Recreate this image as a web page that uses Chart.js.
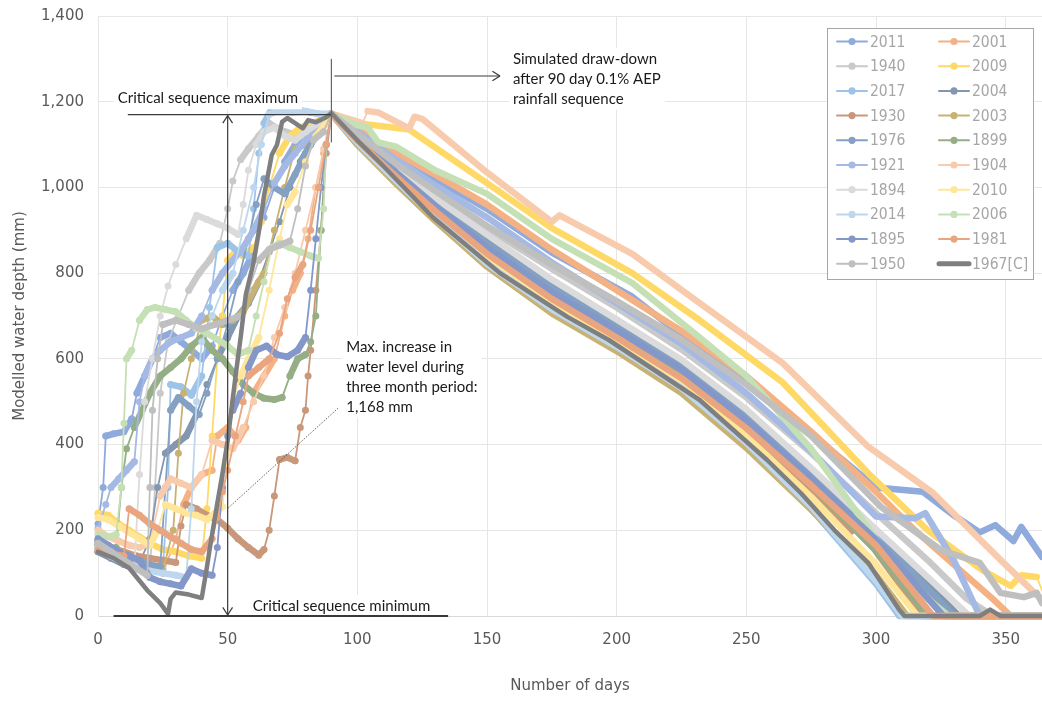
<!DOCTYPE html>
<html>
<head>
<meta charset="utf-8">
<script src="https://cdn.jsdelivr.net/npm/chart.js@4.4.0/dist/chart.umd.min.js"></script>
<style>
  html, body { margin: 0; padding: 0; background: #fff; }
  #wrap { width: 1042px; height: 701px; }
</style>
</head>
<body>
<div id="wrap"><canvas id="depthChart" width="1042" height="701"></canvas></div>
<script>
// modelled water depth (mm) by day: [day, mm]
const d2011 = [[0,215],[2,300],[3,420],[6,425],[10,430],[13,460],[15,520],[18,560],[21,600],[24,650],[28,660],[32,640],[36,620],[40,600],[44,630],[48,700],[52,760],[56,800],[60,850],[64,930],[68,1000],[72,1060],[76,1100],[80,1130],[84,1150],[88,1165],[90,1172],[100,1135],[115,1075],[130,1020],[150,950],[175,848],[206,745],[225,655],[250,545],[275,425],[300,300],[318,290],[330,235],[340,195],[346,212],[353,175],[356,208],[364,138]];
const d2001 = [[0,150],[5,135],[10,125],[15,115],[20,110],[25,100],[30,180],[33,260],[36,300],[40,330],[44,340],[46,420],[50,440],[54,410],[57,440],[60,520],[64,560],[68,600],[72,700],[75,760],[78,800],[81,880],[84,1000],[87,1080],[90,1170],[100,1135],[115,1080],[130,1030],[150,960],[175,855],[200,760],[225,665],[250,560],[275,430],[300,290],[315,200],[330,120],[345,40],[352,0],[364,0]];
const d1940 = [[0,175],[5,155],[10,140],[15,125],[20,110],[22,300],[24,520],[27,640],[31,700],[35,760],[39,800],[43,830],[47,870],[50,950],[52,1015],[55,1065],[58,1090],[62,1120],[66,1150],[70,1135],[75,1125],[80,1140],[85,1155],[90,1172],[100,1125],[115,1055],[130,990],[150,905],[175,810],[200,720],[225,622],[250,510],[275,380],[300,240],[320,130],[335,40],[345,0],[364,0]];
const d2009 = [[0,240],[4,235],[8,215],[12,200],[16,185],[20,170],[25,155],[30,150],[35,140],[40,135],[42,250],[44,420],[46,600],[48,700],[50,830],[53,850],[56,840],[60,860],[63,920],[66,1000],[70,1080],[74,1120],[78,1140],[83,1150],[87,1160],[90,1172],[100,1150],[120,1135],[150,1010],[175,905],[206,800],[232,690],[264,545],[297,333],[320,200],[341,107],[352,70],[356,95],[362,91],[364,60]];
const d2017 = [[0,165],[5,150],[10,135],[15,125],[20,115],[25,110],[27,300],[28,540],[32,535],[36,515],[40,560],[43,720],[46,860],[50,870],[54,850],[58,840],[60,950],[62,1080],[64,1150],[67,1185],[70,1190],[74,1185],[78,1180],[82,1175],[86,1170],[90,1172],[100,1100],[115,1010],[130,925],[150,818],[175,710],[200,622],[225,525],[250,398],[275,250],[300,75],[309,0],[364,0]];
const d2004 = [[0,150],[5,135],[10,120],[15,110],[20,180],[23,300],[26,380],[30,400],[34,420],[38,470],[42,540],[46,600],[50,650],[54,700],[58,730],[62,780],[66,850],[70,920],[74,1000],[78,1060],[82,1100],[86,1140],[90,1172],[100,1118],[115,1040],[130,965],[150,880],[175,778],[200,690],[225,596],[250,476],[275,340],[300,196],[332,0],[364,0]];
const d1930 = [[0,170],[5,160],[10,150],[15,140],[20,135],[25,130],[30,125],[32,210],[34,260],[38,250],[42,235],[46,225],[50,205],[54,180],[58,160],[62,142],[64,155],[66,200],[68,280],[70,365],[73,370],[76,362],[78,440],[80,480],[81,560],[82,620],[84,760],[86,900],[88,1080],[90,1170],[100,1110],[115,1020],[130,940],[150,840],[175,735],[200,646],[225,552],[250,430],[275,290],[290,195],[294,215],[300,150],[318,0],[364,0]];
const d2003 = [[0,160],[5,145],[10,135],[15,125],[20,115],[25,105],[29,200],[31,380],[33,520],[36,600],[40,690],[44,700],[48,680],[52,690],[56,710],[60,760],[64,800],[68,900],[72,1000],[76,1090],[80,1100],[84,1130],[88,1150],[90,1172],[100,1100],[115,1008],[130,922],[150,815],[175,706],[200,618],[225,520],[250,392],[275,248],[300,95],[312,0],[364,0]];
const d1976 = [[0,175],[5,160],[10,145],[15,130],[20,120],[24,115],[26,300],[28,480],[31,510],[35,490],[39,470],[42,520],[46,600],[50,680],[54,780],[58,880],[61,960],[64,1020],[68,1000],[72,985],[76,1030],[80,1080],[85,1130],[90,1172],[100,1115],[115,1035],[130,960],[150,870],[175,768],[200,680],[225,590],[250,472],[275,338],[300,190],[330,0],[364,0]];
const d1899 = [[0,165],[4,150],[7,160],[9,300],[11,390],[14,440],[17,480],[20,520],[24,560],[28,580],[32,600],[36,630],[40,650],[44,620],[48,600],[52,570],[56,540],[60,520],[64,508],[68,505],[71,510],[74,560],[77,600],[80,610],[82,640],[84,700],[86,900],[88,1100],[90,1170],[100,1120],[115,1030],[130,950],[150,850],[175,745],[200,656],[225,562],[250,442],[275,305],[300,152],[320,0],[364,0]];
const d1921 = [[0,205],[3,260],[5,300],[8,320],[11,340],[14,360],[16,500],[18,560],[21,600],[24,620],[28,640],[32,650],[36,660],[40,700],[44,760],[48,800],[52,830],[56,860],[60,900],[64,950],[68,1010],[72,1050],[76,1080],[80,1110],[84,1140],[88,1160],[90,1172],[100,1130],[115,1065],[130,1005],[150,930],[175,825],[200,730],[225,635],[250,520],[275,385],[300,232],[315,228],[319,240],[330,130],[340,0],[364,0]];
const d1904 = [[0,200],[4,185],[8,175],[12,165],[16,160],[20,170],[24,280],[28,320],[32,310],[36,300],[40,330],[44,410],[48,400],[52,390],[56,440],[60,500],[64,560],[68,650],[72,720],[76,800],[80,900],[84,1000],[87,1090],[90,1172],[102,1150],[104,1178],[108,1175],[120,1138],[122,1165],[125,1160],[150,1035],[175,920],[178,935],[206,845],[232,730],[264,590],[297,395],[322,287],[348,131],[364,37]];
const d1894 = [[0,160],[5,140],[10,125],[14,115],[16,330],[18,500],[21,600],[24,700],[27,770],[30,820],[34,880],[38,935],[42,925],[46,915],[50,905],[54,890],[56,960],[58,1040],[61,1100],[64,1130],[68,1140],[72,1120],[76,1110],[80,1130],[85,1150],[90,1172],[100,1120],[115,1045],[130,975],[150,890],[175,785],[200,692],[225,598],[250,482],[275,345],[300,202],[320,90],[336,0],[364,0]];
const d2010 = [[0,230],[4,225],[8,210],[12,195],[16,180],[20,165],[23,200],[26,260],[30,250],[34,240],[38,235],[42,225],[45,240],[48,255],[50,380],[52,500],[55,560],[58,600],[62,650],[66,760],[70,880],[73,960],[76,990],[80,1060],[84,1120],[88,1150],[90,1172],[100,1115],[115,1025],[130,942],[150,835],[175,730],[200,642],[225,545],[250,420],[275,278],[300,120],[316,0],[364,0]];
const d2014 = [[0,160],[5,140],[10,125],[15,115],[20,105],[25,100],[30,95],[34,90],[36,250],[38,500],[40,640],[44,700],[48,760],[52,800],[56,900],[60,1000],[63,1100],[66,1170],[70,1180],[75,1175],[80,1178],[85,1172],[90,1172],[100,1105],[115,1015],[130,930],[150,822],[175,716],[200,628],[225,532],[250,404],[275,255],[300,82],[310,0],[364,0]];
const d2006 = [[0,190],[4,185],[7,190],[9,300],[10,450],[11,600],[13,620],[16,690],[19,715],[22,720],[26,715],[30,710],[34,690],[38,670],[42,660],[46,645],[50,630],[54,610],[58,620],[61,700],[64,780],[67,860],[70,870],[74,860],[78,850],[82,840],[85,835],[87,950],[88,1100],[90,1170],[100,1145],[104,1140],[108,1105],[115,1095],[130,1040],[150,985],[175,880],[206,777],[232,650],[250,560],[275,390],[300,180],[312,80],[328,0],[364,0]];
const d1895 = [[0,180],[4,165],[8,150],[12,140],[16,130],[20,90],[24,80],[28,75],[32,70],[36,110],[40,100],[44,95],[46,160],[48,300],[50,420],[52,480],[55,520],[58,580],[61,620],[65,630],[69,610],[73,605],[77,620],[80,650],[82,760],[84,880],[86,1000],[88,1100],[90,1172],[100,1120],[115,1035],[130,958],[150,860],[175,756],[200,666],[225,575],[250,456],[275,320],[300,178],[326,0],[364,0]];
const d1981 = [[0,155],[5,145],[10,140],[12,250],[16,235],[20,215],[24,200],[28,185],[32,170],[36,155],[40,150],[44,180],[46,230],[48,290],[50,340],[53,420],[56,500],[58,560],[62,580],[66,600],[70,660],[73,740],[76,790],[79,820],[82,900],[85,1000],[88,1100],[90,1172],[100,1110],[115,1025],[130,945],[150,845],[175,740],[200,650],[225,555],[250,438],[275,305],[300,165],[322,0],[364,0]];
const d1950 = [[0,170],[5,150],[10,130],[15,110],[19,95],[20,300],[21,480],[23,600],[25,680],[30,690],[35,680],[40,670],[45,680],[50,690],[55,700],[58,760],[62,830],[66,855],[70,865],[74,875],[77,950],[80,1050],[83,1110],[87,1130],[90,1172],[100,1125],[115,1055],[130,992],[150,910],[175,820],[200,735],[225,645],[250,540],[275,420],[302,254],[325,154],[340,124],[348,54],[357,44],[362,54],[364,30]];
const d1967 = [[0,150],[6,135],[12,112],[19,60],[24,30],[27,5],[28,40],[30,55],[35,50],[40,42],[42,114],[43,154],[46,263],[48,333],[50,410],[53,558],[55,650],[57,750],[60,825],[62,896],[64,980],[67,1076],[69,1099],[71,1153],[73,1162],[76,1150],[79,1138],[81,1157],[84,1152],[88,1164],[90,1173],[100,1110],[110,1050],[129,931],[155,800],[181,698],[197,644],[232,504],[245,434],[258,364],[271,287],[284,200],[297,124],[309,14],[311,0],[340,0],[344,15],[348,0],[364,0]];

const seriesNames = ['2011','2001','1940','2009','2017','2004','1930','2003','1976','1899','1921','1904','1894','2010','2014','2006','1895','1981','1950','1967[C]'];
const seriesData = [d2011,d2001,d1940,d2009,d2017,d2004,d1930,d2003,d1976,d1899,d1921,d1904,d1894,d2010,d2014,d2006,d1895,d1981,d1950,d1967];
const xTicks = [0,50,100,150,200,250,300,350];
const yTicks = [0,200,400,600,800,1000,1200,1400];

// styles
const seriesColors = ['#8faadc','#f4b183','#c9c9c9','#ffd966','#9dc3e6','#8497b0','#c9987a','#c8b273','#84a1c3','#95ae85',
                      '#a4b9e4','#f8cbad','#dbdbdb','#ffe699','#bdd7ee','#c5e0b4','#8497c9','#e9a57f','#bfbfbf','#7f7f7f'];
const critIdx = seriesNames.length - 1;
const axisFont = { family: 'DejaVu Sans', size: 15 };
const noteFont = '15px Lato, "Open Sans", sans-serif';
const legendFont = '15.5px "Liberation Sans Narrow", "DejaVu Sans Condensed", sans-serif';

// annotation anchors (days / mm)
const critMax = 1170, critDay = 50, seqEnd = 90;

const datasets = seriesNames.map((name, i) => {
    const crit = i === critIdx;
    return {
        label: name,
        data: seriesData[i].map(p => ({ x: p[0], y: p[1] })),
        borderColor: seriesColors[i],
        backgroundColor: seriesColors[i],
        borderWidth: crit ? 4.5 : 1.8,
        borderJoinStyle: 'round',
        borderCapStyle: 'round',
        pointRadius: crit ? 0 : (ctx => (ctx.raw && ctx.raw.x < seqEnd ? 3.5 : 0)),
        pointHoverRadius: 0,
        pointBorderWidth: 0,
        pointBackgroundColor: seriesColors[i],
        // dense daily markers look like a thick band where the level changes slowly
        segment: crit ? undefined : {
            borderWidth: ctx => {
                const dx = ctx.p1.parsed.x - ctx.p0.parsed.x;
                const dy = Math.abs(ctx.p1.parsed.y - ctx.p0.parsed.y);
                return dy / dx < 14 ? 6.5 : 1.8;
            }
        },
        tension: 0,
        clip: false,
        order: seriesNames.length - i
    };
});

// text boxes, lines and arrows drawn over the plot
const notes = {
    id: 'notes',
    afterDatasetsDraw(chart) {
        const { ctx, scales: { x, y } } = chart;
        const X = v => x.getPixelForValue(v), Y = v => y.getPixelForValue(v);
        const line = (x1, y1, x2, y2) => { ctx.beginPath(); ctx.moveTo(x1, y1); ctx.lineTo(x2, y2); ctx.stroke(); };
        const head = (xt, yt, ang) => {
            const L = 9, a = Math.PI / 5.5;
            line(xt, yt, xt - L * Math.cos(ang - a), yt - L * Math.sin(ang - a));
            line(xt, yt, xt - L * Math.cos(ang + a), yt - L * Math.sin(ang + a));
        };
        const block = (lines, left, firstMid) => {
            ctx.font = noteFont;
            const w = Math.max(...lines.map(t => ctx.measureText(t).width));
            ctx.fillStyle = '#fff';
            ctx.fillRect(left - 4, firstMid - 11, w + 8, (lines.length - 1) * 20 + 22);
            ctx.fillStyle = '#1a1a1a';
            ctx.textBaseline = 'middle';
            ctx.textAlign = 'left';
            lines.forEach((t, k) => ctx.fillText(t, left, firstMid + k * 20));
        };

        ctx.save();
        block(['Critical sequence maximum'], X(7.6), Y(1208));
        block(['Critical sequence minimum'], X(59.7), Y(23));
        block(['Simulated draw-down', 'after 90 day 0.1% AEP', 'rainfall sequence'], X(160), Y(1300));
        block(['Max. increase in', 'water level during', 'three month period:', '1,168 mm'], X(95.7), Y(628));

        ctx.strokeStyle = '#3a3a3a';
        ctx.lineWidth = 1.2;
        line(X(11.5), Y(critMax), X(seqEnd), Y(critMax));
        ctx.lineWidth = 1.8;
        line(X(6), Y(0), X(135), Y(0));
        ctx.lineWidth = 1.2;
        line(X(critDay), Y(critMax) + 1, X(critDay), Y(0) - 1);
        head(X(critDay), Y(critMax) + 1, -Math.PI / 2);
        head(X(critDay), Y(0) - 1, Math.PI / 2);
        ctx.strokeStyle = '#666';
        line(X(seqEnd), Y(1300), X(seqEnd), Y(1105));
        ctx.strokeStyle = '#3a3a3a';
        line(X(seqEnd) + 3, Y(1260), X(155), Y(1260));
        head(X(155), Y(1260), 0);

        ctx.lineWidth = 0.8;
        ctx.setLineDash([1.5, 1.5]);
        line(X(92.6), Y(485), X(50.2), Y(252));
        ctx.restore();
    }
};

// legend box inside the plot, two columns
const legendBox = {
    id: 'legendBox',
    afterDatasetsDraw(chart) {
        const { ctx, chartArea: a } = chart;
        const w = 206, h = 251, left = a.right - 9 - w, top = a.top + 12;
        ctx.save();
        ctx.fillStyle = '#fff';
        ctx.fillRect(left, top, w, h);
        ctx.strokeStyle = '#a6a6a6';
        ctx.lineWidth = 1;
        ctx.strokeRect(left + 0.5, top + 0.5, w, h);
        ctx.font = legendFont;
        ctx.textBaseline = 'middle';
        ctx.textAlign = 'left';
        seriesNames.forEach((name, i) => {
            const col = i % 2, row = Math.floor(i / 2);
            const lx = left + 10 + col * 102, cy = top + 13.5 + row * 24.7;
            ctx.strokeStyle = seriesColors[i];
            ctx.lineCap = 'round';
            ctx.lineWidth = i === critIdx ? 5 : 2;
            ctx.beginPath(); ctx.moveTo(lx, cy); ctx.lineTo(lx + 30, cy); ctx.stroke();
            if (i !== critIdx) {
                ctx.fillStyle = seriesColors[i];
                ctx.beginPath(); ctx.arc(lx + 15, cy, 3.6, 0, Math.PI * 2); ctx.fill();
            }
            ctx.fillStyle = '#a6a6a6';
            ctx.fillText(name, lx + 33, cy + 1);
        });
        ctx.restore();
    }
};

new Chart(document.getElementById('depthChart'), {
    type: 'line',
    data: { datasets },
    options: {
        responsive: false,
        animation: false,
        events: [],
        layout: { autoPadding: false, padding: { top: 16, right: 0, bottom: 0, left: 0 } },
        plugins: { legend: { display: false }, tooltip: { enabled: false } },
        scales: {
            x: {
                type: 'linear', min: 0, max: 364,
                afterBuildTicks: s => { s.ticks = xTicks.map(v => ({ value: v })); },
                afterFit: s => { s.height = 85; s.paddingLeft = 0; s.paddingRight = 0; },
                ticks: { color: '#595959', font: axisFont, padding: 15, maxRotation: 0 },
                grid: { color: '#e6e6e6', drawTicks: false },
                border: { color: '#d9d9d9' },
                title: { display: true, text: 'Number of days', color: '#595959', font: axisFont, padding: { top: 0, bottom: 6 } }
            },
            y: {
                type: 'linear', min: 0, max: 1400,
                afterBuildTicks: s => { s.ticks = yTicks.map(v => ({ value: v })); },
                // keep the tick gap from pushing the plot area down
                afterFit: s => { s.width = 98; s.paddingTop = 0; s.paddingBottom = 0; },
                ticks: { color: '#595959', font: axisFont, padding: 14, callback: v => v.toLocaleString('en-US') },
                grid: { color: '#e6e6e6', drawTicks: false },
                border: { color: '#e6e6e6' },
                title: { display: true, text: 'Modelled water depth (mm)', color: '#595959', font: axisFont, padding: { top: 11, bottom: 0 } }
            }
        }
    },
    plugins: [notes, legendBox]
});
</script>
</body>
</html>
